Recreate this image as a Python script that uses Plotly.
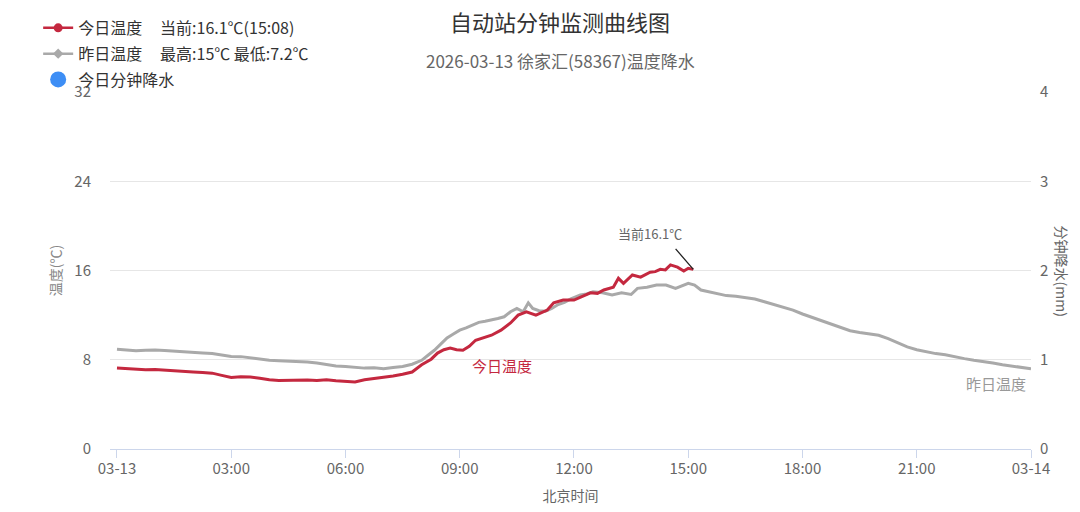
import plotly.graph_objects as go
import pandas as pd

title_text = "自动站分钟监测曲线图"
subtitle_text = "2026-03-13 徐家汇(58367)温度降水"
day = "2026-03-13 "

today_clock = [
    "00:00", "00:15", "00:30", "00:45", "01:00", "01:15", "01:30", "01:45",
    "02:00", "02:15", "02:30", "02:45", "03:00", "03:15", "03:30", "03:45",
    "04:00", "04:15", "04:30", "04:45", "05:00", "05:15", "05:30", "05:45",
    "06:00", "06:15", "06:30", "06:45", "07:00", "07:15", "07:30", "07:45",
    "08:00", "08:15", "08:25", "08:35", "08:45", "08:55", "09:05", "09:15",
    "09:25", "09:35", "09:50", "10:05", "10:20", "10:32", "10:45", "11:00",
    "11:18", "11:28", "11:43", "12:00", "12:13", "12:26", "12:37", "12:47",
    "13:02", "13:10", "13:18", "13:32", "13:45", "14:00", "14:08", "14:16",
    "14:24", "14:32", "14:43", "14:53", "15:00", "15:08",
]
today_temp = [
    7.25, 7.20, 7.15, 7.10, 7.12, 7.05, 7.00, 6.95,
    6.90, 6.85, 6.80, 6.60, 6.42, 6.48, 6.45, 6.35,
    6.20, 6.15, 6.18, 6.20, 6.18, 6.15, 6.20, 6.12,
    6.05, 6.00, 6.20, 6.30, 6.40, 6.55, 6.70, 6.90,
    7.55, 8.05, 8.60, 8.90, 9.05, 8.90, 8.85, 9.20,
    9.75, 9.95, 10.20, 10.65, 11.30, 12.00, 12.30, 12.00,
    12.45, 13.10, 13.35, 13.35, 13.70, 14.00, 13.95, 14.25,
    14.50, 15.30, 14.85, 15.60, 15.40, 15.85, 15.90, 16.10,
    16.05, 16.50, 16.30, 15.95, 16.20, 16.10,
]

yday_clock = [
    "00:00", "00:15", "00:30", "00:45", "01:00", "01:15", "01:30", "01:45",
    "02:00", "02:15", "02:30", "02:45", "03:00", "03:15", "03:30", "03:45",
    "04:00", "04:15", "04:30", "04:45", "05:00", "05:15", "05:30", "05:45",
    "06:00", "06:15", "06:30", "06:45", "07:00", "07:15", "07:30", "07:45",
    "08:00", "08:10", "08:20", "08:30", "08:40", "08:50", "09:00", "09:10",
    "09:20", "09:30", "09:40", "09:50", "10:00", "10:10", "10:20", "10:30",
    "10:40", "10:48", "10:55", "11:05", "11:15", "11:25", "11:35", "11:45",
    "11:55", "12:10", "12:20", "12:30", "12:45", "13:00", "13:15", "13:30",
    "13:40", "13:55", "14:10", "14:25", "14:40", "15:00", "15:10", "15:20",
    "15:35", "15:50", "16:00", "16:15", "16:30", "16:45", "17:00", "17:15",
    "17:30", "17:45", "18:00", "18:15", "18:30", "18:45", "19:00", "19:15",
    "19:30", "19:45", "20:00", "20:15", "20:30", "20:45", "21:00", "21:15",
    "21:30", "21:45", "22:00", "22:15", "22:30", "22:45", "23:00", "23:15",
    "23:30", "23:45", "24:00",
]
yday_temp = [
    8.95, 8.90, 8.80, 8.85, 8.88, 8.82, 8.75, 8.70,
    8.62, 8.60, 8.55, 8.45, 8.30, 8.28, 8.15, 8.05,
    7.95, 7.92, 7.90, 7.85, 7.80, 7.70, 7.55, 7.45,
    7.40, 7.35, 7.25, 7.28, 7.20, 7.30, 7.40, 7.60,
    7.95, 8.40, 8.85, 9.40, 9.95, 10.30, 10.65, 10.85,
    11.10, 11.35, 11.45, 11.55, 11.70, 11.85, 12.30, 12.60,
    12.30, 13.10, 12.60, 12.40, 12.35, 12.60, 12.95, 13.15,
    13.45, 13.80, 13.90, 14.10, 14.00, 13.80, 14.00, 13.85,
    14.40, 14.50, 14.70, 14.70, 14.40, 14.85, 14.70, 14.25,
    14.05, 13.85, 13.75, 13.70, 13.60, 13.45, 13.20, 12.95,
    12.70, 12.45, 12.10, 11.80, 11.50, 11.15, 10.85, 10.60,
    10.45, 10.35, 10.20, 9.90, 9.50, 9.15, 8.90, 8.70,
    8.55, 8.45, 8.25, 8.10, 7.95, 7.85, 7.70, 7.55,
    7.45, 7.30, 7.20,
]

precip_clock = []
precip_vals = []

x_tick_clock = ["00:00", "03:00", "06:00", "09:00", "12:00", "15:00", "18:00", "21:00", "24:00"]
x_ticktext = ["03-13", "03:00", "06:00", "09:00", "12:00", "15:00", "18:00", "21:00", "03-14"]
y_tickvals = [0, 8, 16, 24, 32]
y2_tickvals = [0, 1, 2, 3, 4]

legend_today = "今日温度\u00a0\u00a0\u00a0\u00a0\u00a0当前:16.1℃(15:08)"
legend_yday = "昨日温度\u00a0\u00a0\u00a0\u00a0\u00a0最高:15℃ 最低:7.2℃"
legend_precip = "今日分钟降水"


def to_time(c):
    h, m = c.split(":")
    return pd.Timestamp(day + "00:00") + pd.Timedelta(hours=int(h), minutes=int(m))


today_times = [to_time(c) for c in today_clock]
yday_times = [to_time(c) for c in yday_clock]
precip_times = [to_time(c) for c in precip_clock]
x_tickvals = [to_time(c) for c in x_tick_clock]

RED = "#c4283f"
GRAY = "#a9a9a9"
BLUE = "#3d8ef5"
FONT = "Noto Sans CJK SC"

fig = go.Figure()

fig.add_trace(go.Scatter(x=yday_times, y=yday_temp, mode="lines",
                         line=dict(color=GRAY, width=3), showlegend=False, name="昨日温度"))
fig.add_trace(go.Scatter(x=today_times, y=today_temp, mode="lines",
                         line=dict(color=RED, width=3), showlegend=False, name="今日温度"))

# legend entries
fig.add_trace(go.Scatter(x=[None], y=[None], mode="lines+markers", name=legend_today,
                         line=dict(color=RED, width=2.5), marker=dict(color=RED, size=9, symbol="circle"),
                         legendgroup="a"))
fig.add_trace(go.Scatter(x=[None], y=[None], mode="lines+markers", name=legend_yday,
                         line=dict(color=GRAY, width=2.5), marker=dict(color=GRAY, size=8, symbol="diamond"),
                         legendgroup="b"))
fig.add_trace(go.Scatter(x=precip_times if precip_times else [None],
                         y=precip_vals if precip_vals else [None],
                         mode="markers", name=legend_precip, yaxis="y2",
                         marker=dict(color=BLUE, size=16, symbol="circle"), legendgroup="c"))

# current value annotation
fig.add_annotation(x=today_times[-1], y=today_temp[-1], text="", showarrow=True,
                   ax=-19, ay=-22, arrowhead=0, arrowwidth=1.3, arrowcolor="#222222", standoff=0)
fig.add_annotation(x=today_times[-1], y=today_temp[-1], text="当前16.1℃", showarrow=False,
                   xshift=-43, yshift=36, font=dict(size=13, color="#666666", family=FONT))
fig.add_annotation(x=to_time("10:07"), y=7.5, text="今日温度", showarrow=False,
                   font=dict(size=15, color=RED, family=FONT))
fig.add_annotation(x=x_tickvals[-1], y=5.9, text="昨日温度", showarrow=False, xanchor="right",
                   xshift=-3, font=dict(size=15, color="#999999", family=FONT))

# titles
fig.add_annotation(x=0.4886, y=1.0, xref="paper", yref="paper", yshift=71, yanchor="middle",
                   text=title_text, showarrow=False, font=dict(size=22, color="#333333", family=FONT))
fig.add_annotation(x=0.4886, y=1.0, xref="paper", yref="paper", yshift=32, yanchor="middle",
                   text=subtitle_text, showarrow=False, font=dict(size=17, color="#666666", family=FONT))
fig.add_annotation(x=1.0, y=0.5, xref="paper", yref="paper", xshift=31, xanchor="center",
                   yanchor="middle", text="分钟降水(mm)", textangle=90, showarrow=False,
                   font=dict(size=14, color="#666666", family=FONT))

# page body has an 8px default margin, so the figure is sized to fit the window
fig.update_layout(
    width=1072, height=504,
    margin=dict(l=102, r=49, t=84, b=63, autoexpand=False),
    paper_bgcolor="white", plot_bgcolor="white",
    font=dict(family=FONT, color="#666666"),
    showlegend=True,
    legend=dict(x=-0.078, y=1.227, xanchor="left", yanchor="top",
                font=dict(size=16, color="#333333", family=FONT),
                bgcolor="rgba(0,0,0,0)", traceorder="grouped", tracegroupgap=2,
                itemsizing="trace"),
    xaxis=dict(
        type="date",
        range=[to_time("00:00") - pd.Timedelta(minutes=11), to_time("24:00")],
        tickvals=x_tickvals, ticktext=x_ticktext,
        showgrid=False, showline=True, linecolor="#ccd6eb", linewidth=1,
        ticks="outside", ticklen=8, tickcolor="#ccd6eb",
        tickfont=dict(size=15, color="#666666"), ticklabelstandoff=-2,
        title=dict(text="北京时间", font=dict(size=14, color="#666666"), standoff=14),
        zeroline=False,
    ),
    yaxis=dict(
        range=[0, 32], tickvals=y_tickvals,
        showgrid=True, gridcolor="#e6e6e6", gridwidth=1, zeroline=False,
        tickfont=dict(size=15, color="#666666"), ticklabelstandoff=18,
        title=dict(text="温度(℃)", font=dict(size=14, color="#888888"), standoff=9),
    ),
    yaxis2=dict(
        overlaying="y", side="right", range=[0, 4], tickvals=y2_tickvals,
        showgrid=False, zeroline=False, tickfont=dict(size=15, color="#666666"),
        ticklabelstandoff=8,
    ),
)

fig.write_html("out.html")
